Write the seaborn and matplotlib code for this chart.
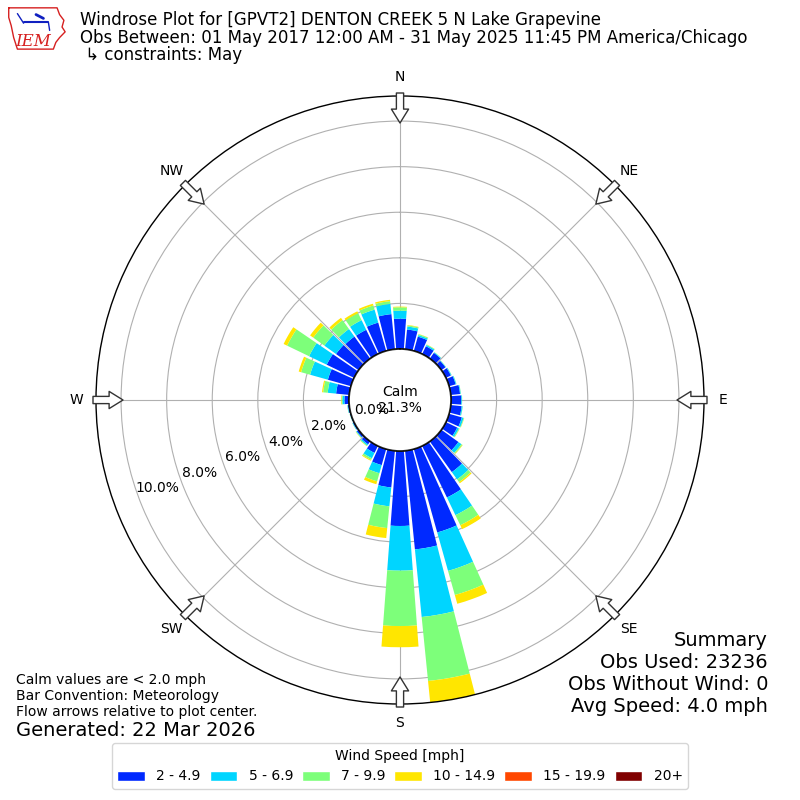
import numpy as np
import pandas as pd
import matplotlib
matplotlib.use("Agg")
import matplotlib.pyplot as plt
from matplotlib.patches import Patch
import seaborn as sns

## data (percent of obs)
directions = list(range(0, 360, 10))
speed_labels = ["2 - 4.9", "5 - 6.9", "7 - 9.9", "10 - 14.9", "15 - 19.9", "20+"]
pct_2_5 = [1.33, 0.87, 0.65, 0.38, 0.31, 0.22, 0.24, 0.30, 0.41, 0.45,
           0.48, 0.58, 0.55, 0.92, 1.66, 2.51, 3.80, 4.35, 3.29, 1.62,
           0.73, 0.34, 0.16, 0.10, 0.06, 0.04, 0.06, 0.20, 0.58, 1.05,
           1.33, 1.22, 1.19, 1.18, 1.29, 1.55]
pct_5_7 = [0.35, 0.13, 0.07, 0.06, 0.03, 0.02, 0.03, 0.03, 0.03, 0.03,
           0.04, 0.08, 0.08, 0.16, 0.39, 0.86, 1.75, 2.98, 1.96, 0.83,
           0.37, 0.26, 0.06, 0.03, 0.02, 0.01, 0.02, 0.09, 0.37, 0.81,
           0.86, 0.63, 0.41, 0.47, 0.59, 0.45]
pct_7_10 = [0.15, 0.05, 0.04, 0.02, 0.01, 0.01, 0.01, 0.01, 0.01, 0.01,
            0.01, 0.02, 0.03, 0.05, 0.15, 0.49, 1.10, 2.82, 2.43, 0.96,
            0.37, 0.08, 0.03, 0.02, 0.01, 0.01, 0.01, 0.04, 0.20, 0.41,
            1.07, 0.60, 0.48, 0.34, 0.19, 0.12]
pct_10_15 = [0.03, 0.02, 0.01, 0.01, 0.0, 0.0, 0.0, 0.0, 0.0, 0.0,
             0.0, 0.01, 0.01, 0.02, 0.06, 0.19, 0.40, 0.95, 0.93, 0.44,
             0.13, 0.04, 0.01, 0.01, 0.0, 0.0, 0.0, 0.02, 0.05, 0.11,
             0.17, 0.17, 0.12, 0.09, 0.08, 0.06]
pct_15_20 = [0.0] * 36
pct_20_up = [0.0] * 36
calm_pct = 21.3

compass = ["N", "NE", "E", "SE", "S", "SW", "W", "NW"]
compass_deg = [0, 45, 90, 135, 180, 225, 270, 315]
ring_ticks = [0, 2, 4, 6, 8, 10]

df = pd.DataFrame({"dir": directions})
for lab, vals in zip(speed_labels, [pct_2_5, pct_5_7, pct_7_10, pct_10_15, pct_15_20, pct_20_up]):
    df[lab] = vals

## setting
sns.set_theme(style="white", rc={"text.color": "black", "xtick.color": "black",
                                 "ytick.color": "black", "axes.labelcolor": "black"})
plt.rcParams["font.family"] = ["DejaVu Sans"]
colors = sns.color_palette([plt.cm.jet(v) for v in np.linspace(0, 1, 7)[1:]])

fig = plt.figure(figsize=(8, 8), dpi=100)
ax = fig.add_axes([0.12, 0.12, 0.76, 0.76], projection="polar")
ax.set_theta_zero_location("N")
ax.set_theta_direction(-1)

totals = df[speed_labels].sum(axis=1).values
rmax = totals.max()
calm_r = 51.0 / 253.0 * rmax
ax.set_ylim(0, rmax)
ax.set_rorigin(-calm_r)


def px2r(px):
    return px / 304.0 * (rmax + calm_r) - calm_r


theta = np.deg2rad(df["dir"].values)
bottom = np.zeros(len(df))
for lab, col in zip(speed_labels, colors):
    vals = df[lab].values
    ax.bar(theta, vals, width=np.deg2rad(8.6), bottom=bottom, color=col,
           linewidth=0, zorder=2)
    bottom += vals

## grid
ax.set_axisbelow(True)
ax.set_yticks(ring_ticks[1:])
ax.set_yticklabels([])
ax.set_xticks(np.deg2rad(compass_deg))
ax.set_xticklabels(compass, fontsize=10)
ax.tick_params(axis="x", pad=1)
ax.grid(True, color="#b0b0b0", lw=0.8)
ax.spines["polar"].set_color("black")
ax.spines["polar"].set_linewidth(1.0)

circ = np.linspace(0, 2 * np.pi, 361)
ax.plot(circ, np.zeros_like(circ), color="black", lw=1.0, zorder=3)

for v in ring_ticks:
    ax.text(np.deg2rad(250), v - 0.9, "%.1f%%" % v, ha="center", va="center",
            fontsize=10, zorder=4)

ax.text(0.5, 0.5, "Calm\n%.1f%%" % calm_pct, transform=ax.transAxes,
        ha="center", va="center", fontsize=10, zorder=4)

## flow arrows
for d in compass_deg:
    ax.annotate("", xy=(np.deg2rad(d), px2r(277)), xytext=(np.deg2rad(d), px2r(307)),
                arrowprops=dict(arrowstyle="simple,head_length=0.5,head_width=0.62,tail_width=0.26",
                                fc="white", ec="#333333", lw=1, shrinkA=0, shrinkB=0,
                                mutation_scale=20),
                annotation_clip=False, zorder=5)

## texts
fig.text(80 / 800, 1 - 20 / 800, "Windrose Plot for [GPVT2] DENTON CREEK 5 N Lake Grapevine",
         fontsize=12, va="center")
fig.text(80 / 800, 1 - 38 / 800,
         "Obs Between: 01 May 2017 12:00 AM - 31 May 2025 11:45 PM America/Chicago",
         fontsize=12, va="center")
fig.text(80 / 800, 1 - 55 / 800, " \u21b3 constraints: May", fontsize=12, va="center")

for i, line in enumerate(["Summary", "Obs Used: 23236", "Obs Without Wind: 0", "Avg Speed: 4.0 mph"]):
    fig.text(768 / 800, 1 - (640 + 22 * i) / 800, line, ha="right", va="center", fontsize=14)

for i, line in enumerate(["Calm values are < 2.0 mph", "Bar Convention: Meteorology",
                          "Flow arrows relative to plot center."]):
    fig.text(16 / 800, 1 - (680 + 16 * i) / 800, line, va="center", fontsize=10)
fig.text(16 / 800, 1 - 730 / 800, "Generated: 22 Mar 2026", va="center", fontsize=14)

handles = [Patch(facecolor=c) for c in colors]
leg = fig.legend(handles, speed_labels, loc="lower center", bbox_to_anchor=(0.5, 0.005),
                 ncol=6, title="Wind Speed [mph]", fontsize=10, title_fontsize=10,
                 frameon=True, columnspacing=0.65, edgecolor="0.8")

## logo
lax = fig.add_axes([5 / 800, 1 - 52 / 800, 62 / 800, 48 / 800])
lax.set_xlim(0, 1)
lax.set_ylim(0, 1)
lax.axis("off")
iowa_x = [0.06, 0.84, 0.88, 0.95, 0.92, 0.97, 0.88, 0.82, 0.78, 0.2, 0.14, 0.1, 0.06, 0.06]
iowa_y = [0.92, 0.92, 0.78, 0.66, 0.52, 0.42, 0.3, 0.2, 0.06, 0.06, 0.3, 0.55, 0.72, 0.92]
lax.plot(iowa_x, iowa_y, color="#d62020", lw=1)
lax.plot([0.3, 0.7], [0.62, 0.62], color="#1020c0", lw=1.5)
lax.plot([0.2, 0.3], [0.8, 0.6], color="#1020c0", lw=1)
lax.plot([0.5, 0.62], [0.78, 0.7], color="#1020c0", lw=2)
lax.plot([0.7, 0.72], [0.62, 0.45], color="#1020c0", lw=1)
lax.text(0.16, 0.22, "IEM", color="#d62020", fontsize=12, style="italic",
         family="DejaVu Serif", va="center")

plt.savefig("out.png", dpi=100)
